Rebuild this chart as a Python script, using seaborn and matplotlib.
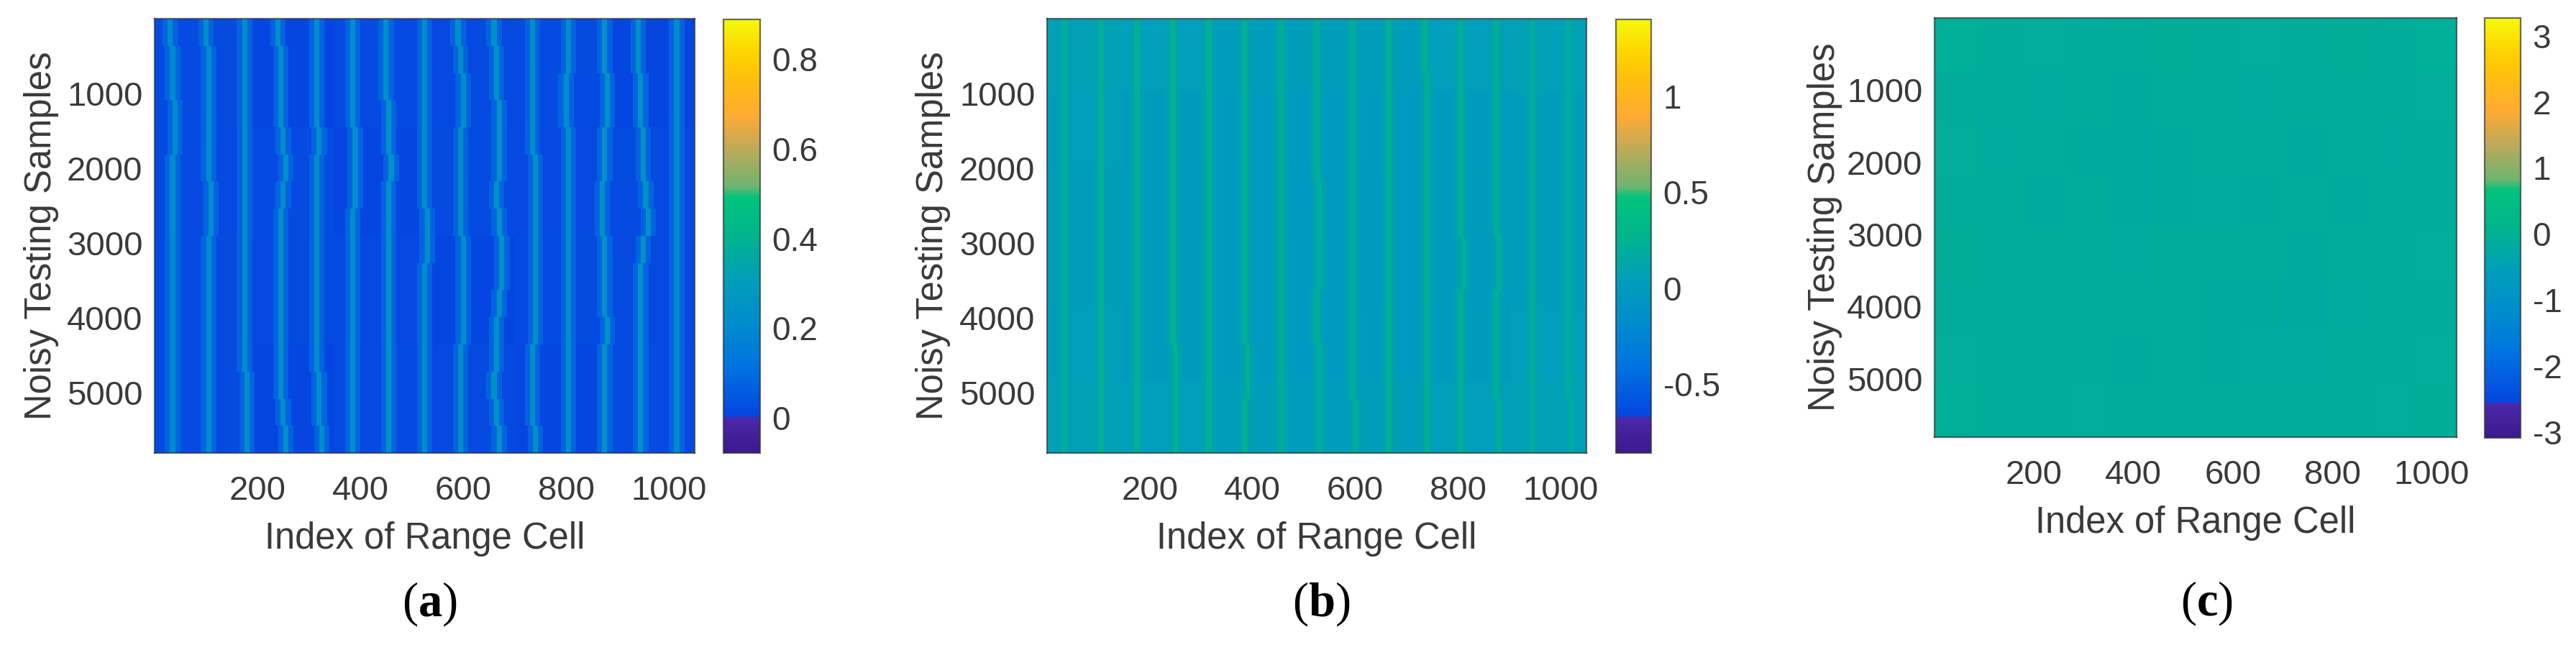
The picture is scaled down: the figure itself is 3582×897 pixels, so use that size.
# Import libraries
import numpy as np
import matplotlib.pyplot as plt
import seaborn as sns
from matplotlib.colors import LinearSegmentedColormap

# ── 1. Data ───────────────────────────────────────────────
# range cell of each bright stripe, one row per stripe, left to right along the samples axis
stripes_a = [
    [34, 36, 38, 40, 40, 38, 37, 37, 37, 38, 38, 38, 37, 37, 37, 35],
    [104, 106, 107, 108, 108, 109, 110, 110, 109, 108, 107, 107, 106, 106, 106, 107],
    [175, 176, 179, 179, 179, 177, 175, 175, 175, 175, 175, 177, 179, 180, 181, 181],
    [243, 245, 246, 248, 251, 258, 251, 248, 248, 248, 247, 246, 246, 247, 251, 258],
    [315, 316, 317, 319, 320, 317, 316, 316, 316, 316, 317, 319, 319, 321, 323, 325],
    [385, 386, 388, 389, 391, 393, 390, 389, 389, 388, 387, 386, 387, 387, 387, 388],
    [453, 453, 453, 455, 459, 461, 459, 458, 457, 457, 457, 457, 457, 458, 458, 457],
    [525, 525, 525, 526, 526, 527, 528, 531, 531, 529, 529, 529, 528, 528, 528, 528],
    [593, 596, 600, 600, 598, 597, 596, 598, 600, 603, 603, 601, 598, 598, 598, 596],
    [664, 665, 668, 670, 673, 670, 668, 671, 675, 675, 670, 667, 665, 662, 666, 673],
    [735, 737, 738, 739, 739, 742, 742, 743, 744, 743, 742, 740, 739, 737, 735, 740],
    [806, 805, 804, 804, 805, 805, 806, 808, 809, 809, 809, 808, 808, 807, 806, 807],
    [877, 878, 880, 884, 879, 875, 874, 874, 875, 876, 878, 881, 879, 877, 876, 877],
    [943, 943, 945, 947, 951, 953, 957, 960, 953, 949, 946, 945, 945, 945, 945, 945],
    [1015, 1016, 1017, 1018, 1019, 1019, 1018, 1017, 1016, 1015, 1015, 1015, 1015, 1016, 1017, 1017],
]
stripes_b = [
    [36, 37, 37, 36, 36, 36, 37, 36],
    [105, 106, 106, 106, 107, 106, 106, 106],
    [176, 177, 177, 177, 176, 177, 177, 178],
    [246, 247, 247, 247, 247, 248, 251, 253],
    [317, 318, 318, 318, 319, 318, 318, 318],
    [388, 389, 389, 389, 389, 389, 390, 389],
    [456, 458, 458, 458, 459, 459, 458, 458],
    [528, 529, 529, 530, 530, 529, 530, 530],
    [596, 598, 598, 599, 599, 598, 599, 600],
    [666, 668, 669, 669, 668, 668, 668, 669],
    [738, 740, 740, 741, 740, 740, 740, 741],
    [808, 809, 809, 809, 810, 809, 809, 809],
    [878, 879, 879, 879, 880, 879, 879, 880],
    [947, 948, 949, 948, 948, 948, 948, 949],
    [1018, 1019, 1019, 1019, 1019, 1019, 1019, 1020],
]
peak_a = [0.21, 0.22, 0.22, 0.23, 0.22, 0.22, 0.24, 0.22, 0.22, 0.24, 0.23, 0.22, 0.24, 0.24, 0.21]
peak_b = [0.20, 0.23, 0.22, 0.25, 0.23, 0.22, 0.21, 0.21, 0.21, 0.23, 0.23, 0.22, 0.22, 0.20, 0.19]
halo_a = 0.075
halo_b = 0.07

# coarse background level, top row first
background_a = [
    [0.014, 0.006, 0.014, 0.010, 0.014, 0.006],
    [0.010, 0.014, 0.006, 0.014, 0.010, 0.014],
    [0.014, 0.010, 0.010, 0.006, 0.014, 0.010],
    [0.014, 0.006, 0.014, 0.010, 0.006, 0.014],
]
background_b = [
    [0.06, 0.04, 0.02, 0.03, 0.02, 0.04, 0.06],
    [0.04, 0.00, -0.01, -0.02, -0.01, -0.01, 0.03],
    [0.03, -0.01, -0.02, -0.03, -0.02, 0.00, 0.03],
    [0.03, 0.00, -0.02, -0.02, -0.02, -0.01, 0.03],
    [0.04, 0.01, -0.01, -0.02, -0.01, 0.00, 0.04],
    [0.06, 0.04, 0.03, 0.02, 0.03, 0.04, 0.06],
]
background_c = [
    [-0.07, -0.11, -0.09, -0.13, -0.10, -0.08, -0.12, -0.09, -0.11, -0.08, -0.10, -0.07],
    [-0.10, -0.13, -0.15, -0.12, -0.16, -0.14, -0.11, -0.15, -0.12, -0.14, -0.11, -0.09],
    [-0.09, -0.15, -0.12, -0.17, -0.19, -0.16, -0.14, -0.13, -0.16, -0.13, -0.15, -0.10],
    [-0.12, -0.11, -0.16, -0.14, -0.20, -0.17, -0.15, -0.16, -0.14, -0.17, -0.12, -0.11],
    [-0.08, -0.14, -0.12, -0.13, -0.15, -0.12, -0.10, -0.14, -0.17, -0.13, -0.14, -0.09],
    [-0.11, -0.10, -0.14, -0.11, -0.13, -0.14, -0.16, -0.17, -0.19, -0.15, -0.11, -0.12],
    [-0.09, -0.13, -0.11, -0.14, -0.16, -0.13, -0.17, -0.15, -0.18, -0.14, -0.13, -0.09],
    [-0.07, -0.10, -0.12, -0.09, -0.11, -0.10, -0.12, -0.11, -0.10, -0.12, -0.09, -0.08],
]

x_ticks = [200, 400, 600, 800, 1000]
y_ticks = [1000, 2000, 3000, 4000, 5000]
cbar_ticks_a = [0, 0.2, 0.4, 0.6, 0.8]
cbar_ticks_b = [-0.5, 0, 0.5, 1]
cbar_ticks_c = [-3, -2, -1, 0, 1, 2, 3]
limits_a = (-0.079, 0.889)
limits_b = (-0.86, 1.40)
limits_c = (-3.09, 3.27)
captions = ['a', 'b', 'c']

N_CELLS = 1050
N_SAMPLES = 5810
CELL = 5
N_ROWS = 48

# the published colour bar, with its jump at the green end
stops = [(0.00, (60, 25, 140)), (0.08, (75, 40, 170)), (0.085, (5, 70, 225)),
         (0.20, (0, 115, 225)), (0.30, (0, 140, 205)), (0.40, (0, 158, 185)),
         (0.50, (0, 180, 140)), (0.59, (0, 195, 125)), (0.615, (110, 180, 110)),
         (0.70, (190, 170, 90)), (0.78, (255, 170, 50)), (0.86, (255, 190, 15)),
         (0.92, (255, 210, 0)), (1.00, (245, 250, 10))]
parula_like = LinearSegmentedColormap.from_list(
    'parula_like', [(f, tuple(c / 255 for c in rgb)) for f, rgb in stops], N=512)


# ── 2. Build the cell tables ──────────────────────────────
def build_cells(background, stripes=None, peaks=None, halo=None):
    bg = np.array(background, dtype=float)
    n_cols = N_CELLS // CELL
    rows = np.arange(N_ROWS) * bg.shape[0] // N_ROWS
    cols = np.arange(n_cols) * bg.shape[1] // n_cols
    cells = bg[np.ix_(rows, cols)]
    if stripes is None:
        return cells
    for track, peak in zip(stripes, peaks):
        for i in range(N_ROWS):
            col = track[i * len(track) // N_ROWS] // CELL
            cells[i, col - 3:col + 3] = halo
            cells[i, col - 1:col + 1] = peak
    return cells


cells_a = build_cells(background_a, stripes_a, peak_a, halo_a)
cells_b = build_cells(background_b, stripes_b, peak_b, halo_b)
cells_c = build_cells(background_c)

# ── 3. Plot ───────────────────────────────────────────────
sns.set_theme(style='white')
plt.rcParams['font.family'] = ['Liberation Sans', 'DejaVu Sans']
plt.rcParams['axes.unicode_minus'] = False
plt.rcParams['mathtext.fontset'] = 'custom'
plt.rcParams['mathtext.bf'] = 'Liberation Serif:bold'
plt.rcParams['mathtext.rm'] = 'Liberation Serif'

W, H = 3582, 897
TEXT = '#3a3a3a'
fig = plt.figure(figsize=(W / 100, H / 100), dpi=100)


def box(left, right, top, bottom):
    return [left / W, 1 - bottom / H, (right - left) / W, (bottom - top) / H]


panels = [
    (cells_a, limits_a, cbar_ticks_a, box(215, 966, 26, 630), box(1006, 1057, 27, 630), (58, 328), (597, 840)),
    (cells_b, limits_b, cbar_ticks_b, box(1456, 2206, 26, 630), box(2247, 2296, 27, 630), (1298, 328), (1837, 840)),
    (cells_c, limits_c, cbar_ticks_c, box(2690, 3416, 25, 608), box(3455, 3505, 25, 609), (2538, 316), (3069, 839)),
]

for (cells, limits, cbar_ticks, ax_box, cbar_box, ylab, cap), letter in zip(panels, captions):
    ax = fig.add_axes(ax_box)
    cax = fig.add_axes(cbar_box)
    sns.heatmap(cells, ax=ax, cbar_ax=cax, cmap=parula_like, vmin=limits[0], vmax=limits[1],
                xticklabels=False, yticklabels=False, linewidths=0, rasterized=True)

    ax.set_xticks(np.array(x_ticks) / CELL)
    ax.set_xticklabels(x_ticks)
    ax.set_yticks(np.array(y_ticks) * N_ROWS / N_SAMPLES)
    ax.set_yticklabels(y_ticks, rotation=0)
    ax.tick_params(axis='both', which='major', direction='in', length=5, width=1.2, color='#222222',
                   top=True, right=True, bottom=True, left=True, labelsize=34, labelcolor=TEXT)
    ax.tick_params(axis='x', pad=22)
    ax.tick_params(axis='y', pad=12)
    ax.set_xlabel('Index of Range Cell', fontsize=36.5, color=TEXT, labelpad=15)
    fig.text(ylab[0] / W, 1 - ylab[1] / H, 'Noisy Testing Samples', fontsize=36.5, color=TEXT,
             rotation=90, ha='center', va='center')
    for spine in ax.spines.values():
        spine.set_visible(True)
        spine.set_color('#333333')
        spine.set_alpha(0.7)
        spine.set_linewidth(1.6)

    cbar = ax.collections[0].colorbar
    cbar.set_ticks(cbar_ticks)
    cbar.set_ticklabels([f'{t:g}' for t in cbar_ticks])
    cbar.ax.tick_params(direction='in', length=5, width=1.2, color='#222222', right=True, left=False,
                        labelsize=33, labelcolor=TEXT, pad=12)
    cbar.outline.set_visible(True)
    cbar.outline.set_edgecolor('#333333')
    cbar.outline.set_alpha(0.7)
    cbar.outline.set_linewidth(1.6)

    fig.text(cap[0] / W, 1 - cap[1] / H, rf'($\mathbf{{{letter}}}$)', fontsize=48, color='black',
             family='Liberation Serif', ha='center', va='center')

fig.savefig('out.png', dpi=100, facecolor='white')
